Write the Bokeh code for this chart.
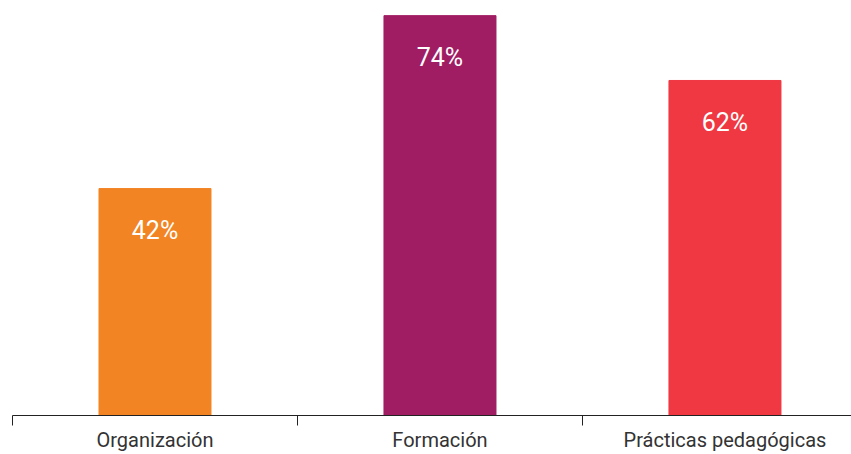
from bokeh.plotting import figure
from bokeh.models import FixedTicker, Range1d, ColumnDataSource
from bokeh.core.properties import value
from bokeh.embed import file_html
from bokeh.resources import INLINE

categories = ["Organización", "Formación", "Prácticas pedagógicas"]
values = [42, 74, 62]
colors = ["#F28423", "#A01C63", "#EF3842"]
labels = [f"{v}%" for v in values]

xpos = [i + 0.5 for i in range(len(categories))]
src = ColumnDataSource(dict(x=xpos, top=values, color=colors, label=labels))

p = figure(width=851, height=454, output_backend="svg", toolbar_location=None,
           x_range=Range1d(0, 2.944), y_range=Range1d(0, 76.8),
           min_border_left=12, min_border_right=0, min_border_top=0, min_border_bottom=37)
p.outline_line_color = None
p.xgrid.visible = False
p.ygrid.visible = False
p.yaxis.visible = False

p.vbar(x="x", top="top", width=0.393, bottom=0, color="color", source=src)
p.text(x="x", y="top", text="label", source=src, y_offset=42,
       text_align="center", text_baseline="middle", text_color="white",
       text_font=value("Roboto"), text_font_size="25px")

ax = p.xaxis[0]
ax.ticker = FixedTicker(ticks=xpos, minor_ticks=list(range(len(categories) + 1)))
ax.major_label_overrides = {x: c for x, c in zip(xpos, categories)}
ax.major_tick_line_color = None
ax.major_tick_out = 0
ax.major_tick_in = 0
ax.minor_tick_out = 10
ax.minor_tick_in = 0
ax.minor_tick_line_color = "#222222"
ax.axis_line_color = "#222222"
ax.major_label_text_font = "Roboto"
ax.major_label_text_font_size = "20px"
ax.major_label_text_color = "#333333"
ax.major_label_standoff = 2

open("out.html", "w").write(file_html(p, INLINE))
